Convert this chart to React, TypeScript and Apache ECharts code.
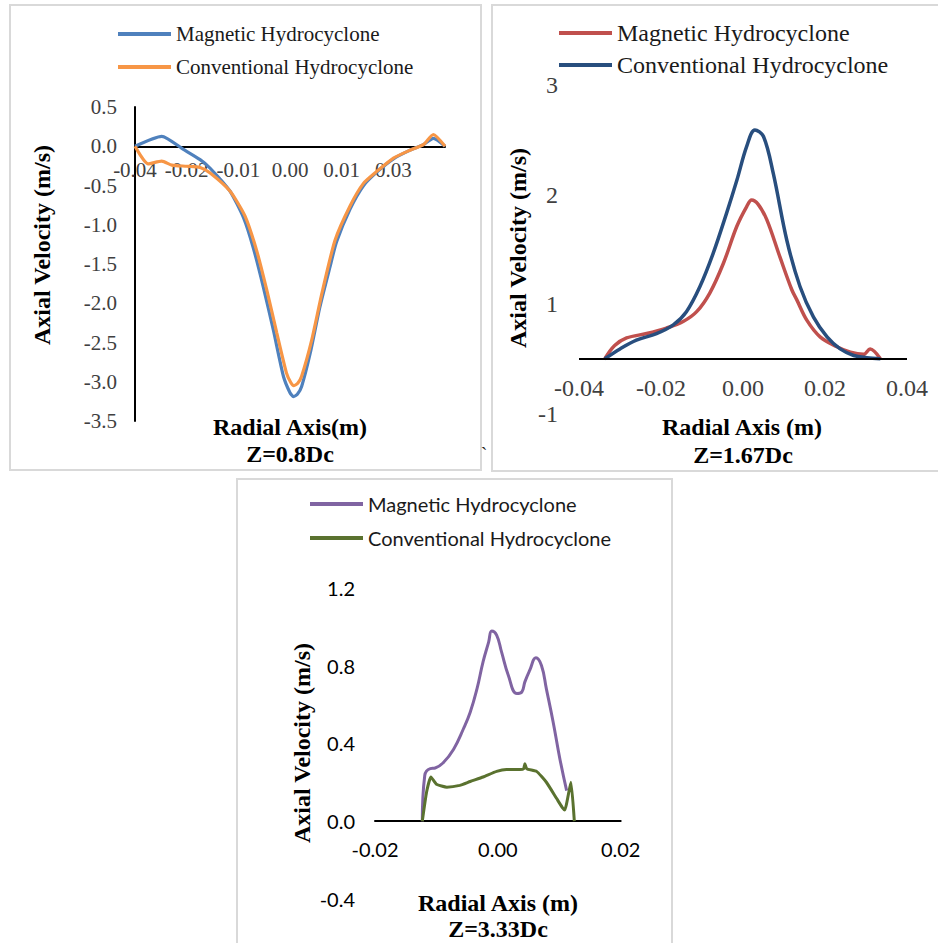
import React, { useEffect, useRef } from "react";
import * as echarts from "echarts";

const SERIES_NAMES = ["Magnetic Hydrocyclone", "Conventional Hydrocyclone"];

// ---------- Panel 1 (Z=0.8Dc) ----------
const p1XTickLabels = ["-0.04", "-0.02", "-0.01", "0.00", "0.01", "0.03", ""];
const p1MagX = [-0.04, -0.0331, -0.0275, -0.0232, -0.0206, -0.0155, -0.012, -0.0095, -0.0069, -0.0043, -0.0017, 0.0, 0.0009, 0.0019, 0.003, 0.0052, 0.0077, 0.0103, 0.012, 0.0155, 0.019, 0.0224, 0.0267, 0.031, 0.0344, 0.037, 0.04];
const p1MagY = [0, 0.127, -0.04, -0.17, -0.28, -0.57, -0.91, -1.29, -1.79, -2.34, -2.93, -3.14, -3.19, -3.16, -3.06, -2.64, -2.05, -1.54, -1.22, -0.8, -0.5, -0.33, -0.16, -0.05, 0.02, 0.1, 0];
const p1ConX = [-0.04, -0.0366, -0.0331, -0.0305, -0.0267, -0.0232, -0.0206, -0.0155, -0.0116, -0.0086, -0.006, -0.0034, -0.0009, 0.0002, 0.001, 0.002, 0.003, 0.0056, 0.0082, 0.0116, 0.0155, 0.019, 0.0224, 0.0267, 0.031, 0.0344, 0.037, 0.04];
const p1ConY = [0, -0.225, -0.19, -0.24, -0.255, -0.27, -0.34, -0.57, -0.89, -1.33, -1.83, -2.38, -2.89, -3.01, -3.05, -3.02, -2.93, -2.47, -1.88, -1.2, -0.76, -0.47, -0.32, -0.15, -0.05, 0.02, 0.15, 0];

// ---------- Panel 2 (Z=1.67Dc) ----------
const p2YTickLabels: Record<string, string> = { "0": "-1", "1": "1", "2": "2", "3": "3" };
const p2Baseline = 0.5;
const p2MagX = [-0.0337, -0.0313, -0.0284, -0.0235, -0.0187, -0.0146, -0.0113, -0.0081, -0.0048, -0.0015, 0.0009, 0.0021, 0.0037, 0.0058, 0.009, 0.0119, 0.0131, 0.0156, 0.0188, 0.0229, 0.0262, 0.0294, 0.031, 0.0335];
const p2MagY = [0.5, 0.62, 0.69, 0.73, 0.78, 0.84, 0.93, 1.1, 1.37, 1.71, 1.89, 1.95, 1.91, 1.77, 1.43, 1.13, 1.04, 0.85, 0.7, 0.61, 0.56, 0.54, 0.59, 0.5];
const p2ConX = [-0.0337, -0.03, -0.026, -0.0211, -0.017, -0.0138, -0.0105, -0.0073, -0.004, -0.0015, 0.0009, 0.0029, 0.005, 0.0074, 0.0107, 0.0139, 0.0172, 0.0205, 0.0237, 0.027, 0.0302, 0.0335];
const p2ConY = [0.5, 0.59, 0.67, 0.73, 0.81, 0.93, 1.16, 1.46, 1.83, 2.13, 2.44, 2.59, 2.53, 2.19, 1.58, 1.16, 0.88, 0.7, 0.59, 0.53, 0.51, 0.5];

// ---------- Panel 3 (Z=3.33Dc) ----------
const p3MagX = [-0.0123, -0.0119, -0.011, -0.0102, -0.0089, -0.0072, -0.0056, -0.0045, -0.0034, -0.0024, -0.0015, -0.001, -0.0002, 0.0006, 0.0017, 0.0031, 0.0039, 0.0044, 0.0052, 0.0062, 0.0071, 0.0079, 0.009, 0.0101, 0.0112];
const p3MagY = [0, 0.235, 0.27, 0.273, 0.3, 0.37, 0.475, 0.56, 0.68, 0.82, 0.92, 0.977, 0.956, 0.87, 0.75, 0.656, 0.664, 0.716, 0.776, 0.84, 0.8, 0.68, 0.51, 0.32, 0.157];
const p3ConX = [-0.0123, -0.0116, -0.0109, -0.01, -0.0083, -0.0062, -0.0045, -0.0024, -0.0002, 0.0014, 0.0036, 0.0042, 0.0044, 0.0047, 0.0063, 0.0079, 0.0096, 0.0105, 0.0109, 0.0119, 0.01245];
const p3ConY = [0, 0.15, 0.227, 0.19, 0.175, 0.184, 0.204, 0.227, 0.256, 0.266, 0.266, 0.27, 0.295, 0.27, 0.256, 0.2, 0.115, 0.07, 0.058, 0.2, 0];

const zip = (xs: number[], ys: number[]) => xs.map((x, i) => [x, ys[i]]);

const SERIF = "Liberation Serif";
const SANS = "Lato";

const C1 = ["#4F81BD", "#F79646"];
const C2 = ["#C0504D", "#284E7E"];
const C3 = ["#8064A2", "#5A722F"];

function buildOption(): any {
  const titleStyle = (text: string, x: number, y: number, rot = 0) => ({
    type: "text",
    x,
    y,
    rotation: rot,
    silent: true,
    style: {
      text,
      fontFamily: SERIF,
      fontWeight: "bold",
      fontSize: 24,
      fill: "#000",
      align: "center",
      verticalAlign: "middle",
    },
  });
  const border = (x: number, y: number, w: number, h: number) => ({
    type: "rect",
    silent: true,
    shape: { x, y, width: w, height: h },
    style: { fill: "none", stroke: "#d9d9d9", lineWidth: 2 },
  });
  const legend = (left: number, top: number, colors: string[], font: string, size: number, lh: number, gap: number) => ({
    orient: "vertical",
    left,
    top,
    padding: 0,
    itemWidth: 53,
    itemHeight: 4,
    itemGap: gap,
    icon: "rect",
    selectedMode: false,
    textStyle: { fontFamily: font, fontSize: size, color: "#1a1a1a", lineHeight: lh },
    data: SERIES_NAMES.map((n, i) => ({ name: n, itemStyle: { color: colors[i], borderWidth: 0 } })),
  });

  return {
    animation: false,
    backgroundColor: "#fff",
    grid: [
      { left: 135, top: 107, width: 310, height: 314, containLabel: false },
      { left: 579, top: 85, width: 328, height: 328.5, containLabel: false },
      { left: 375, top: 587.7, width: 245.7, height: 311.3, containLabel: false },
    ],
    legend: [
      legend(118, 22, C1, SERIF, 21, 24, 9),
      legend(559, 20, C2, SERIF, 24, 26, 6),
      legend(310, 492, C3, SANS, 20, 24, 10),
    ],
    xAxis: [
      {
        gridIndex: 0,
        type: "value",
        min: -0.04,
        max: 0.04,
        interval: 0.08 / 6,
        axisLine: { onZero: true, lineStyle: { color: "#000", width: 2 } },
        axisTick: { show: false },
        splitLine: { show: false },
        axisLabel: {
          margin: -262,
          fontFamily: SERIF,
          fontSize: 21,
          lineHeight: 21,
          color: "#404040",
          showMinLabel: true,
          showMaxLabel: true,
          formatter: (v: number) => p1XTickLabels[Math.round((v + 0.04) / (0.08 / 6))] ?? "",
        },
      },
      {
        gridIndex: 1,
        type: "value",
        min: -0.04,
        max: 0.04,
        interval: 0.02,
        axisLine: { show: false },
        axisTick: { show: false },
        splitLine: { show: false },
        axisLabel: {
          margin: -38,
          fontFamily: SERIF,
          fontSize: 24,
          lineHeight: 24,
          color: "#404040",
          formatter: (v: number) => v.toFixed(2),
        },
      },
      {
        gridIndex: 2,
        type: "value",
        min: -0.02,
        max: 0.02,
        interval: 0.02,
        axisLine: { onZero: true, lineStyle: { color: "#000", width: 2 } },
        axisTick: { show: false },
        splitLine: { show: false },
        axisLabel: {
          margin: -61,
          fontFamily: SANS,
          fontSize: 20,
          lineHeight: 21,
          color: "#000",
          formatter: (v: number) => v.toFixed(2),
        },
      },
    ],
    yAxis: [
      {
        gridIndex: 0,
        type: "value",
        min: -3.5,
        max: 0.5,
        interval: 0.5,
        axisLine: { show: true, onZero: false, lineStyle: { color: "#000", width: 2 } },
        axisTick: { show: false },
        splitLine: { show: false },
        axisLabel: {
          margin: 18,
          fontFamily: SERIF,
          fontSize: 21,
          color: "#404040",
          formatter: (v: number) => v.toFixed(1),
        },
      },
      {
        gridIndex: 1,
        type: "value",
        min: 0,
        max: 3,
        interval: 1,
        axisLine: { show: false },
        axisTick: { show: false },
        splitLine: { show: false },
        axisLabel: {
          margin: 21,
          fontFamily: SERIF,
          fontSize: 24,
          color: "#404040",
          formatter: (v: number) => p2YTickLabels[String(Math.round(v))] ?? String(v),
        },
      },
      {
        gridIndex: 2,
        type: "value",
        min: -0.4,
        max: 1.2,
        interval: 0.4,
        axisLine: { show: false },
        axisTick: { show: false },
        splitLine: { show: false },
        axisLabel: {
          margin: 20,
          fontFamily: SANS,
          fontSize: 20,
          color: "#000",
          formatter: (v: number) => v.toFixed(1),
        },
      },
    ],
    series: [
      {
        name: SERIES_NAMES[0],
        type: "line",
        xAxisIndex: 0,
        yAxisIndex: 0,
        data: zip(p1MagX, p1MagY),
        showSymbol: false,
        symbol: "none",
        smooth: 0.2,
        lineStyle: { color: C1[0], width: 3.2 },
        itemStyle: { color: C1[0] },
      },
      {
        name: SERIES_NAMES[1],
        type: "line",
        xAxisIndex: 0,
        yAxisIndex: 0,
        data: zip(p1ConX, p1ConY),
        showSymbol: false,
        symbol: "none",
        smooth: 0.2,
        lineStyle: { color: C1[1], width: 3.2 },
        itemStyle: { color: C1[1] },
      },
      {
        name: SERIES_NAMES[0],
        type: "line",
        xAxisIndex: 1,
        yAxisIndex: 1,
        data: zip(p2MagX, p2MagY),
        showSymbol: false,
        symbol: "none",
        smooth: 0.35,
        lineStyle: { color: C2[0], width: 3.5 },
        itemStyle: { color: C2[0] },
        markLine: {
          silent: true,
          symbol: ["none", "none"],
          label: { show: false },
          lineStyle: { color: "#000", width: 2, type: "solid" },
          data: [{ yAxis: p2Baseline }],
        },
      },
      {
        name: SERIES_NAMES[1],
        type: "line",
        xAxisIndex: 1,
        yAxisIndex: 1,
        data: zip(p2ConX, p2ConY),
        showSymbol: false,
        symbol: "none",
        smooth: 0.35,
        lineStyle: { color: C2[1], width: 3.5 },
        itemStyle: { color: C2[1] },
      },
      {
        name: SERIES_NAMES[0],
        type: "line",
        xAxisIndex: 2,
        yAxisIndex: 2,
        data: zip(p3MagX, p3MagY),
        showSymbol: false,
        symbol: "none",
        smooth: 0.45,
        lineStyle: { color: C3[0], width: 3 },
        itemStyle: { color: C3[0] },
      },
      {
        name: SERIES_NAMES[1],
        type: "line",
        xAxisIndex: 2,
        yAxisIndex: 2,
        data: zip(p3ConX, p3ConY),
        showSymbol: false,
        symbol: "none",
        smooth: 0.15,
        lineStyle: { color: C3[1], width: 3 },
        itemStyle: { color: C3[1] },
      },
    ],
    graphic: [
      border(10, 5, 471, 465),
      border(492, 5, 470, 466),
      border(237, 479, 435, 480),
      titleStyle("Axial Velocity (m/s)", 42, 245, Math.PI / 2),
      titleStyle("Radial Axis(m)", 290, 427),
      titleStyle("Z=0.8Dc", 290, 454),
      titleStyle("Axial Velocity (m/s)", 518, 248, Math.PI / 2),
      titleStyle("Radial Axis (m)", 742, 427),
      titleStyle("Z=1.67Dc", 743, 455),
      titleStyle("Axial Velocity (m/s)", 302, 743, Math.PI / 2),
      titleStyle("Radial Axis (m)", 498, 903),
      titleStyle("Z=3.33Dc", 498, 929),
      {
        type: "text",
        x: 484,
        y: 455,
        silent: true,
        style: { text: "`", fontFamily: SERIF, fontSize: 20, fill: "#222", align: "center", verticalAlign: "middle" },
      },
    ],
  };
}

export default function App() {
  const ref = useRef<HTMLDivElement>(null);
  useEffect(() => {
    if (!ref.current) return;
    const chart = echarts.init(ref.current, undefined, { renderer: "svg" });
    chart.setOption(buildOption());
    return () => chart.dispose();
  }, []);
  return (
    <div
      ref={ref}
      style={{ position: "fixed", left: 0, top: 0, width: 938, height: 943, background: "#fff" }}
    />
  );
}
